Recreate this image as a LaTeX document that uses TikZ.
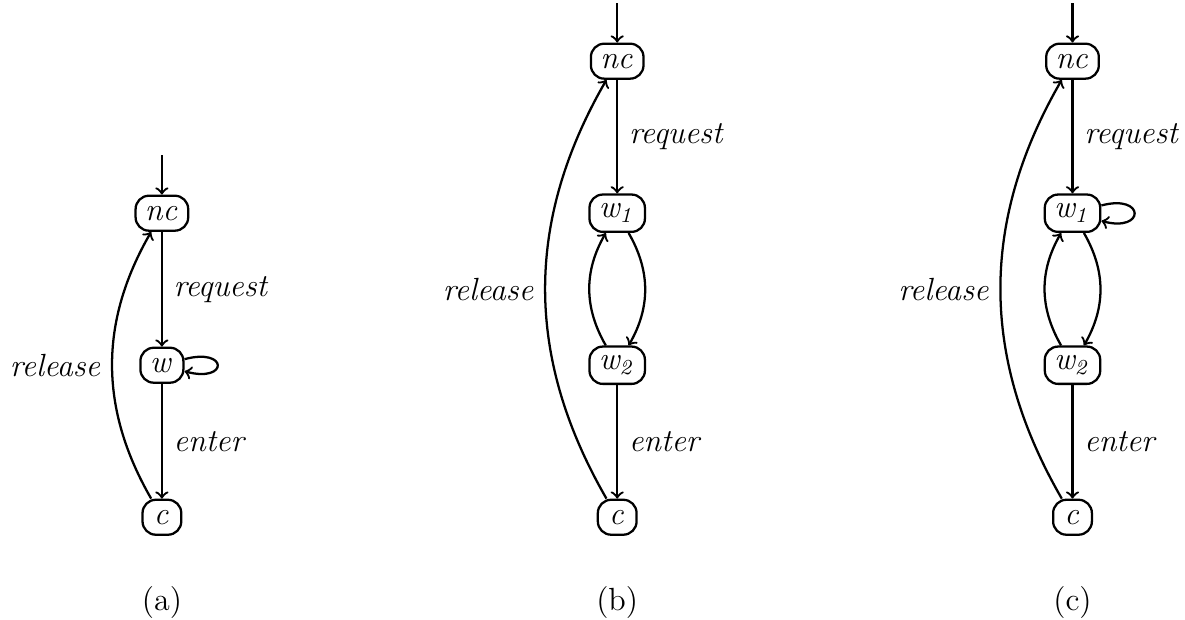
\documentclass[tikz,border=0pt,12pt]{standalone}
\usetikzlibrary{positioning}
\begin{document}
\begin{tikzpicture}[loc/.style={draw, line width=0.85pt, rounded corners=5pt, minimum width=0.51cm, minimum height=0.46cm, inner sep=3.5pt}, trans/.style={->, line width=0.85pt}, selfloop/.style={loop right, min distance=6mm}]
	\useasboundingbox (0,0) rectangle (15.59,8.145);
	% (a)
	\node[loc] (a-nc) at (2.13,5.34) {$\mathit{nc}$};
	\node[loc] (a-w) at (2.13,3.34) {$\mathit{w}$};
	\node[loc] (a-c) at (2.13,1.34) {$\mathit{c}$};
	\coordinate (a-init) at (2.13,6.10);
	\draw[trans] (a-init) -- (a-nc);
	\draw[trans] (a-nc) -- node[right] {\textit{request}} (a-w);
	\draw[trans] (a-w) -- node[right] {\textit{enter}} (a-c);
	\draw[trans] (a-c) to[bend left=30] node[left] {\textit{release}} (a-nc);
	\draw[trans] (a-w) to[selfloop] (a-w);
	\node (a-cap) at (2.13,0.22) {(a)};
	% (b)
	\node[loc] (b-nc) at (8.12,7.34) {$\mathit{nc}$};
	\node[loc] (b-w1) at (8.12,5.34) {$\mathit{w_1}$};
	\node[loc] (b-w2) at (8.12,3.34) {$\mathit{w_2}$};
	\node[loc] (b-c) at (8.12,1.34) {$\mathit{c}$};
	\coordinate (b-init) at (8.12,8.10);
	\draw[trans] (b-init) -- (b-nc);
	\draw[trans] (b-nc) -- node[right] {\textit{request}} (b-w1);
	\draw[trans] (b-w1) to[bend left=30] (b-w2);
	\draw[trans] (b-w2) to[bend left=30] (b-w1);
	\draw[trans] (b-w2) -- node[right] {\textit{enter}} (b-c);
	\draw[trans] (b-c) to[bend left=30] node[left] {\textit{release}} (b-nc);
	\node (b-cap) at (8.12,0.22) {(b)};
	% (c)
	\node[loc] (c-nc) at (14.11,7.34) {$\mathit{nc}$};
	\node[loc] (c-w1) at (14.11,5.34) {$\mathit{w_1}$};
	\node[loc] (c-w2) at (14.11,3.34) {$\mathit{w_2}$};
	\node[loc] (c-c) at (14.11,1.34) {$\mathit{c}$};
	\coordinate (c-init) at (14.11,8.10);
	\draw[trans] (c-init) -- (c-nc);
	\draw[trans] (c-nc) -- node[right] {\textit{request}} (c-w1);
	\draw[trans] (c-w1) to[selfloop] (c-w1);
	\draw[trans] (c-w1) to[bend left=30] (c-w2);
	\draw[trans] (c-w2) to[bend left=30] (c-w1);
	\draw[trans] (c-w2) -- node[right] {\textit{enter}} (c-c);
	\draw[trans] (c-c) to[bend left=30] node[left] {\textit{release}} (c-nc);
	\node (c-cap) at (14.11,0.22) {(c)};
\end{tikzpicture}
\end{document}
